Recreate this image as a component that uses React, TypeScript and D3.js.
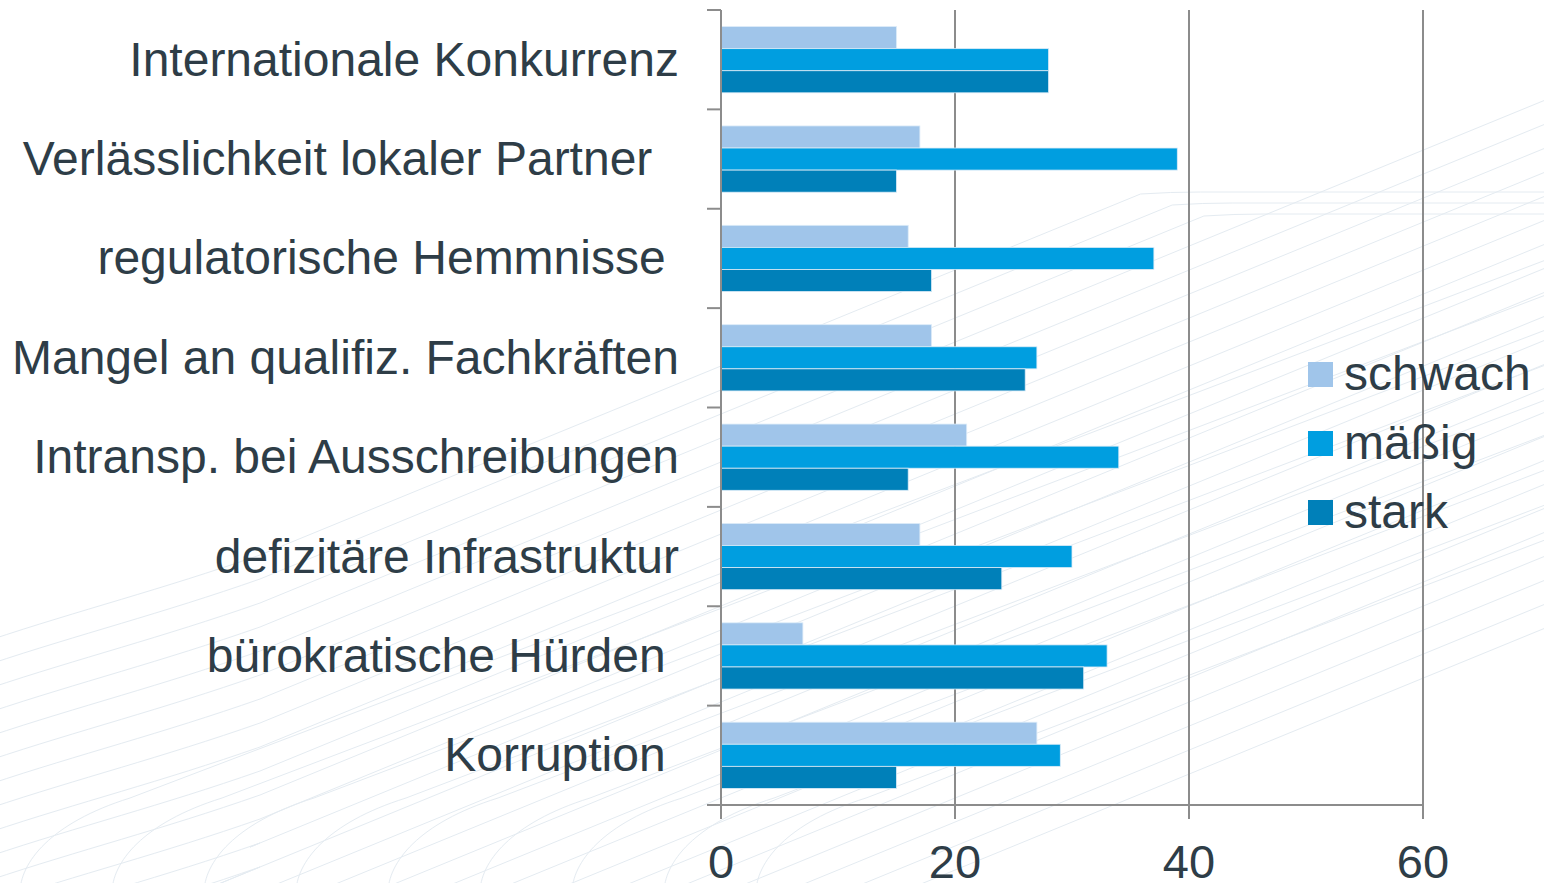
import React from "react";
import * as d3 from "d3";

const categories = [
  "Internationale Konkurrenz",
  "Verlässlichkeit lokaler Partner  ",
  "regulatorische Hemmnisse ",
  "Mangel an qualifiz. Fachkräften",
  "Intransp. bei Ausschreibungen",
  "defizitäre Infrastruktur",
  "bürokratische Hürden ",
  "Korruption ",
];
const seriesNames = ["schwach", "mäßig", "stark"];
const schwach = [15, 17, 16, 18, 21, 17, 7, 27];
const maessig = [28, 39, 37, 27, 34, 30, 33, 29];
const stark = [28, 15, 18, 26, 16, 24, 31, 15];
const seriesValues = [schwach, maessig, stark];
const seriesColors = ["#a0c5ea", "#009ee0", "#0080b9"];
const xTicks = [0, 20, 40, 60];

const W = 1544;
const H = 883;
const FONT = "'Liberation Sans', Arial, Helvetica, sans-serif";
const TEXT = "#2e3d47";
const AXIS = "#8c8c8c";
const FS = 48;

function decoLines(): string[] {
  const paths: string[] = [];
  // faint decorative background swooshes
  for (let k = 0; k < 26; k++) {
    const yL = 600 + k * 24;
    const yTop = 194 + k * 11;
    const xFlat = 1510 - k * 105;
    const p = d3.path();
    p.moveTo(-10, yL + 40);
    p.bezierCurveTo(80, yL + 10, 160, yL - 10, 260, yL - 45);
    const slope = 0.41;
    const xEnd = Math.min(xFlat, 260 + (yL - 45 - yTop) / slope);
    p.lineTo(xEnd, yL - 45 - (xEnd - 260) * slope);
    const yE = yL - 45 - (xEnd - 260) * slope;
    if (yE <= yTop + 2) {
      p.quadraticCurveTo(xEnd + 30, yTop - 2, xEnd + 60, yTop - 2);
      p.lineTo(W + 20, yTop - 2);
    } else {
      p.lineTo(W + 20, yE - (W + 20 - xEnd) * slope);
    }
    paths.push(p.toString());
  }
  for (let k = 0; k < 9; k++) {
    const bx = 40 + k * 92;
    const p = d3.path();
    p.moveTo(bx - 20, H + 10);
    p.bezierCurveTo(bx - 20, H - 20, bx + 10, H - 60, bx + 90, H - 85);
    p.lineTo(bx + 90 + 1600, H - 85 - 1600 * 0.38);
    paths.push(p.toString());
  }
  return paths;
}

export default function App() {
  const x = d3.scaleLinear().domain([0, 60]).range([721, 1423]);
  const y = d3
    .scaleBand<string>()
    .domain(categories)
    .range([10, 805])
    .paddingInner(1 / 3)
    .paddingOuter(1 / 6);
  const inner = d3
    .scaleBand<string>()
    .domain(seriesNames)
    .range([0, y.bandwidth()]);
  const step = y.step();
  const top = 10;
  const bottom = 805;
  const deco = decoLines();

  return (
    <svg
      width={W}
      height={H}
      style={{ position: "absolute", left: 0, top: 0, background: "#fff" }}
      fontFamily={FONT}
    >
      <g fill="none" stroke="#e4ebf1" strokeWidth={1}>
        {deco.map((d, i) => (
          <path key={i} d={d} />
        ))}
      </g>

      {/* gridlines */}
      {xTicks.slice(1).map((t) => (
        <line key={"g" + t} x1={x(t)} x2={x(t)} y1={top} y2={bottom} stroke={AXIS} strokeWidth={2} />
      ))}

      {/* bars */}
      {categories.map((c, ci) => (
        <g key={c} transform={`translate(0,${y(c)})`}>
          {seriesNames.map((s, si) => (
            <rect
              key={s}
              x={x(0)}
              y={inner(s)}
              width={x(seriesValues[si][ci]) - x(0)}
              height={inner.bandwidth()}
              fill={seriesColors[si]}
              stroke="#dcecf8"
              strokeWidth={0.8}
            />
          ))}
        </g>
      ))}

      {/* y axis */}
      <line x1={x(0)} x2={x(0)} y1={top} y2={bottom} stroke={AXIS} strokeWidth={2} />
      {d3.range(categories.length + 1).map((i) => (
        <line key={"yt" + i} x1={707} x2={x(0)} y1={top + i * step} y2={top + i * step} stroke={AXIS} strokeWidth={2} />
      ))}
      {/* x axis */}
      <line x1={707} x2={x(60)} y1={bottom} y2={bottom} stroke={AXIS} strokeWidth={2} />
      {xTicks.map((t) => (
        <line key={"xt" + t} x1={x(t)} x2={x(t)} y1={bottom} y2={819} stroke={AXIS} strokeWidth={2} />
      ))}

      {/* category labels */}
      {categories.map((c) => (
        <text
          key={"l" + c}
          x={679}
          y={(y(c) as number) + y.bandwidth() / 2 + 16}
          textAnchor="end"
          fontSize={FS}
          fill={TEXT}
          style={{ whiteSpace: "pre" }}
          xmlSpace="preserve"
        >
          {c}
        </text>
      ))}

      {/* tick labels */}
      {xTicks.map((t) => (
        <text key={"tl" + t} x={x(t)} y={878} textAnchor="middle" fontSize={FS - 1} fill={TEXT}>
          {t}
        </text>
      ))}

      {/* legend */}
      {seriesNames.map((s, i) => (
        <g key={"lg" + s} transform={`translate(1308,${362 + i * 69})`}>
          <rect x={0} y={0} width={25} height={25} fill={seriesColors[i]} />
          <text x={36} y={28} fontSize={FS} fill={TEXT}>
            {s}
          </text>
        </g>
      ))}
    </svg>
  );
}
